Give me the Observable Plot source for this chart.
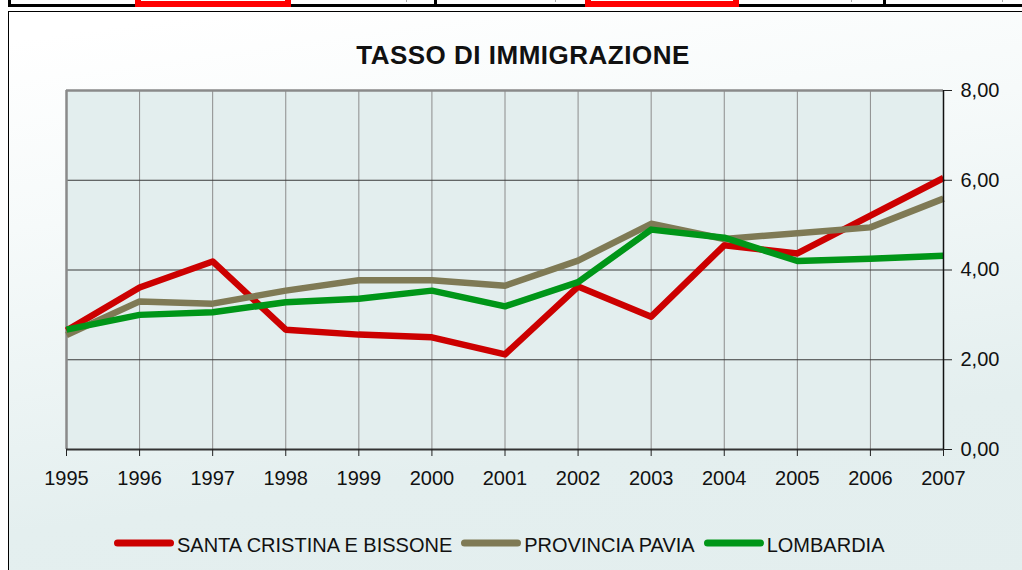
<!DOCTYPE html>
<html>
<head>
<meta charset="utf-8">
<script src="https://cdn.jsdelivr.net/npm/d3@7"></script>
<script src="https://cdn.jsdelivr.net/npm/@observablehq/plot@0.6"></script>
<style>
  html, body { margin: 0; padding: 0; background: #fff; }
  #page { position: relative; width: 1022px; height: 570px; overflow: hidden; font-family: "Liberation Sans", Arial, sans-serif; color: #111; }
  .abs { position: absolute; }
  #frame { position: absolute; left: 8px; top: 11px; width: 1030px; height: 580px; border-left: 1.5px solid #000; border-top: 1.5px solid #000;
           background: linear-gradient(172deg, #ffffff 4%, #f6fafa 30%, #e4efef 72%, #e3eeee 100%); }
  #title { position: absolute; left: 0; top: 40px; width: 1046px; text-align: center; font-weight: bold; font-size: 26px; letter-spacing: 0.5px; line-height: normal; }
  #chart { position: absolute; left: 0; top: 0; }
  #legend { position: absolute; left: 114px; top: 534px; display: flex; align-items: flex-start; font-size: 20px; line-height: 23px; white-space: nowrap; }
  #legend .item { display: flex; align-items: flex-start; margin-right: 9px; }
  #legend svg { margin-top: 4px; margin-right: 3px; }
</style>
</head>
<body>
<div id="page">
  <div id="frame"></div>
  <div id="strip"></div>
  <div id="title">TASSO DI IMMIGRAZIONE</div>
  <div id="chart"></div>
  <div id="legend"></div>
</div>
<script>
// ---- data ----
const years = [1995, 1996, 1997, 1998, 1999, 2000, 2001, 2002, 2003, 2004, 2005, 2006, 2007];
const santaCristina = [2.65, 3.61, 4.19, 2.67, 2.56, 2.50, 2.12, 3.63, 2.96, 4.55, 4.37, 5.21, 6.05];
const provinciaPavia = [2.55, 3.30, 3.25, 3.54, 3.77, 3.77, 3.65, 4.21, 5.03, 4.69, 4.82, 4.95, 5.59];
const lombardia = [2.67, 3.00, 3.06, 3.28, 3.36, 3.54, 3.19, 3.73, 4.90, 4.72, 4.20, 4.25, 4.32];
const seriesNames = ["SANTA CRISTINA E BISSONE", "PROVINCIA PAVIA", "LOMBARDIA"];
const seriesColors = ["#cc0000", "#7f7a55", "#009618"];
const yTicks = [0, 2, 4, 6, 8];
const chartTitle = "TASSO DI IMMIGRAZIONE";

// ---- top strip (fragment of table above the chart) ----
const strip = document.getElementById("strip");
function box(l, t, w, h, css) {
  const d = document.createElement("div");
  d.className = "abs";
  d.style.cssText = `left:${l}px;top:${t}px;width:${w}px;height:${h}px;${css}`;
  strip.appendChild(d);
}
box(8, 4, 1014, 3, "background:#000");
box(8, 0, 3, 7, "background:#000");
box(434, 0, 3, 7, "background:#000");
box(883, 0, 3, 7, "background:#000");
[254, 406, 555, 701, 851, 1002].forEach(x => box(x, 0, 1, 2, "background:#aaa"));
box(135, -6, 156, 13, "box-sizing:border-box;border:6px solid #ff0000;background:#fff");
box(585, -6, 154, 13, "box-sizing:border-box;border:6px solid #ff0000;background:#fff");

document.getElementById("title").textContent = chartTitle;

// ---- chart ----
const series = [santaCristina, provinciaPavia, lombardia];
const rows = [];
series.forEach((vals, i) => vals.forEach((v, j) => rows.push({year: years[j], value: v, serie: seriesNames[i]})));

const fmt = d => d.toFixed(2).replace(".", ",");

const chart = Plot.plot({
  width: 1022,
  height: 490,
  marginLeft: 66,
  marginRight: 79,
  marginTop: 90,
  marginBottom: 41,
  style: {background: "transparent", fontFamily: "'Liberation Sans', Arial, sans-serif", fontSize: "20px", color: "#111", overflow: "visible"},
  x: {domain: [years[0], years[years.length - 1]]},
  y: {domain: [yTicks[0], yTicks[yTicks.length - 1]]},
  color: {domain: seriesNames, range: seriesColors},
  marks: [
    Plot.frame({fill: "#e3eeee", stroke: null}),
    Plot.ruleX(years.slice(1, -1), {stroke: "#8c8c8c", strokeWidth: 1}),
    Plot.ruleY(yTicks.slice(1, -1), {stroke: "#3a3a3a", strokeWidth: 1}),
    Plot.ruleY([yTicks[yTicks.length - 1]], {stroke: "#8a8a8a", strokeWidth: 2.5}),
    Plot.ruleX([years[0]], {stroke: "#8a8a8a", strokeWidth: 2.5}),
    Plot.line(rows, {x: "year", y: "value", z: "serie", stroke: "serie", strokeWidth: 6.5, strokeLinejoin: "round", strokeLinecap: "butt"}),
    Plot.ruleY([yTicks[0]], {stroke: "#333", strokeWidth: 2}),
    Plot.ruleX([years[years.length - 1]], {stroke: "#111", strokeWidth: 1.5}),
    Plot.axisX({ticks: years, tickFormat: d => String(d), tickSize: 7, tickPadding: 14, label: null, stroke: "#222", fontSize: 20}),
    Plot.axisY({anchor: "right", ticks: yTicks, tickFormat: fmt, tickSize: 8, tickPadding: 9, label: null, stroke: "#222", fontSize: 20})
  ]
});
document.getElementById("chart").appendChild(chart);

// ---- legend ----
const legend = document.getElementById("legend");
seriesNames.forEach((name, i) => {
  const item = document.createElement("div");
  item.className = "item";
  const ns = "http://www.w3.org/2000/svg";
  const sw = document.createElementNS(ns, "svg");
  sw.setAttribute("width", 60);
  sw.setAttribute("height", 10);
  const ln = document.createElementNS(ns, "line");
  ln.setAttribute("x1", 3.5); ln.setAttribute("x2", 56.5);
  ln.setAttribute("y1", 5); ln.setAttribute("y2", 5);
  ln.setAttribute("stroke", seriesColors[i]);
  ln.setAttribute("stroke-width", 7);
  ln.setAttribute("stroke-linecap", "round");
  sw.appendChild(ln);
  const tx = document.createElement("span");
  tx.textContent = name;
  item.appendChild(sw);
  item.appendChild(tx);
  legend.appendChild(item);
});
</script>
</body>
</html>
